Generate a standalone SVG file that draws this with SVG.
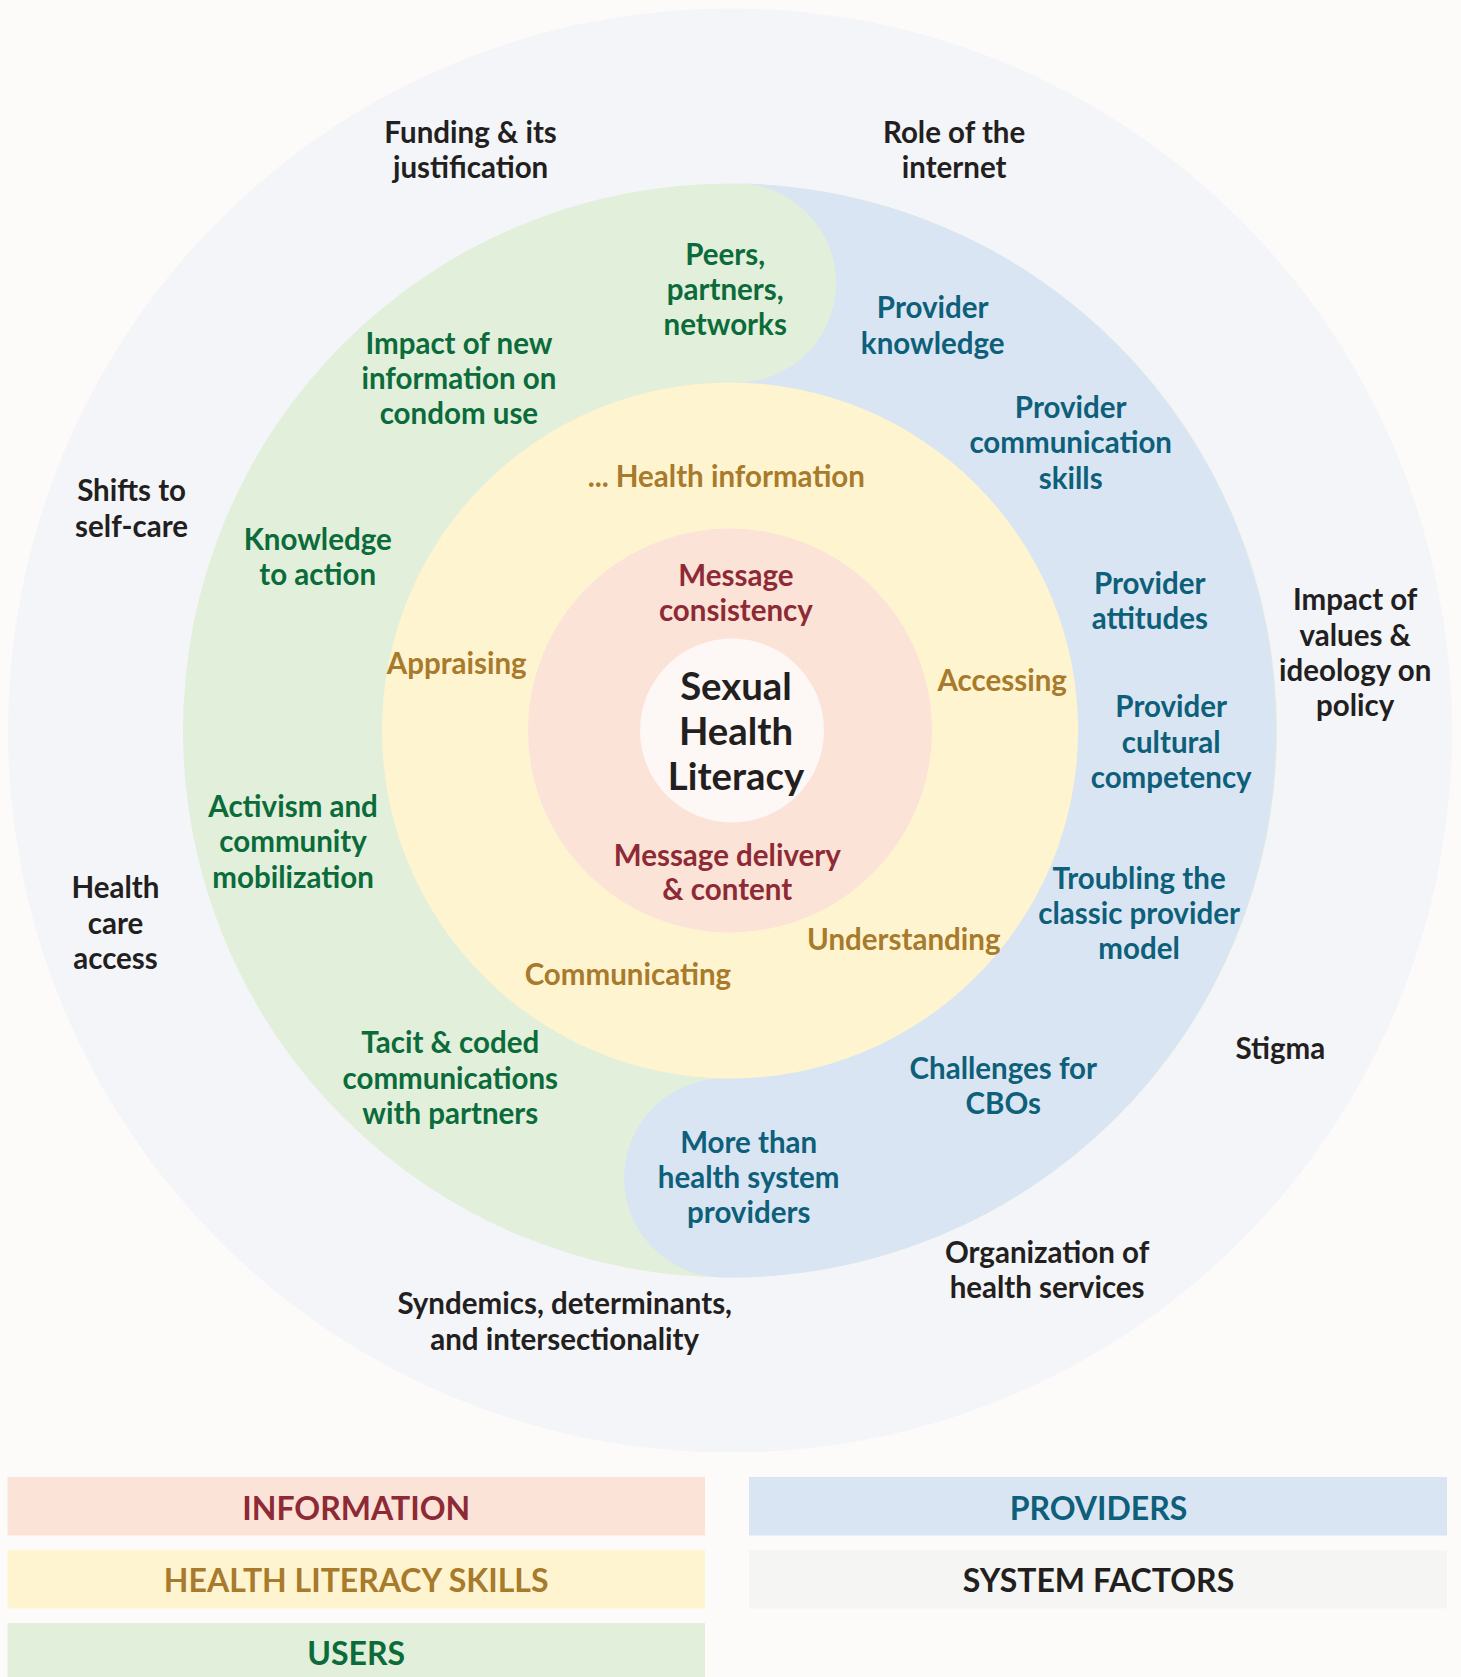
<svg xmlns="http://www.w3.org/2000/svg" width="1461" height="1677" viewBox="0 0 1461 1677">
<style>
text{font-family:Lato,"Noto Sans","Liberation Sans",sans-serif;font-weight:700;text-anchor:middle}
.t{font-size:29.5px}
.sys{fill:#231f20}
.usr{fill:#0b6b3a}
.prv{fill:#0d5f7a}
.skl{fill:#a87a2c}
.inf{fill:#8e2a35}
.ctr{font-size:38.3px;fill:#231f20}
.lg{font-size:32px}
</style>
<rect x="0" y="0" width="1461" height="1677" fill="#fcfbf9"/>
<g id="rings">
<circle id="system-ring" cx="730" cy="730.5" r="722" fill="#f3f5f8"/>
<circle id="users-ring" cx="730" cy="730.5" r="547" fill="#e2efda"/>
<path id="providers-ring" fill="#dae5f3" d="M 737.95 183.56 A 546 546 0 0 1 1276 730.5 A 546 546 0 0 1 722.05 1277.44 A 99.5 99.5 0 0 1 724.95 1078.46 A 348 348 0 0 0 1078 730.5 A 348 348 0 0 0 735.05 382.54 A 99.5 99.5 0 0 0 737.95 183.56 Z"/>
<circle id="skills-ring" cx="730" cy="730.5" r="348" fill="#fff4d0"/>
<circle id="information-ring" cx="730" cy="730.5" r="202" fill="#fbe3d8"/>
<circle id="core" cx="732" cy="730.5" r="92" fill="#fdf7f5"/>
</g>
<g id="connectors"></g>
<g id="center-label"><text class="ctr" x="736" y="699.5">Sexual</text><text class="ctr" x="736" y="744.5">Health</text><text class="ctr" x="736" y="789.5">Literacy</text></g>

<g id="sys-funding"><text class="t sys" x="470.6" y="143">Funding &amp; its</text><text class="t sys" x="470.6" y="178.3">justification</text></g>
<g id="sys-internet"><text class="t sys" x="954.1" y="143">Role of the</text><text class="t sys" x="954.1" y="178.3">internet</text></g>
<g id="sys-selfcare"><text class="t sys" x="131.6" y="501.4">Shifts to</text><text class="t sys" x="131.6" y="536.6">self-care</text></g>
<g id="sys-values"><text class="t sys" x="1355.2" y="610.4">Impact of</text><text class="t sys" x="1355.2" y="645.7">values &amp;</text><text class="t sys" x="1355.2" y="681">ideology on</text><text class="t sys" x="1355.2" y="716.3">policy</text></g>
<g id="sys-access"><text class="t sys" x="115.5" y="898.2">Health</text><text class="t sys" x="115.5" y="933.5">care</text><text class="t sys" x="115.5" y="968.8">access</text></g>
<g id="sys-stigma"><text class="t sys" x="1280.3" y="1058.6">Stigma</text></g>
<g id="sys-organization"><text class="t sys" x="1047.1" y="1262.9">Organization of</text><text class="t sys" x="1047.1" y="1298.2">health services</text></g>
<g id="sys-syndemics"><text class="t sys" x="564.7" y="1314.2">Syndemics, determinants,</text><text class="t sys" x="564.7" y="1349.5">and intersectionality</text></g>

<g id="usr-peers"><text class="t usr" x="725.2" y="265">Peers,</text><text class="t usr" x="725.2" y="300.3">partners,</text><text class="t usr" x="725.2" y="334.5">networks</text></g>
<g id="usr-condom"><text class="t usr" x="458.9" y="353.7">Impact of new</text><text class="t usr" x="458.9" y="389">information on</text><text class="t usr" x="458.9" y="424.3">condom use</text></g>
<g id="usr-knowledge"><text class="t usr" x="317.7" y="549.5">Knowledge</text><text class="t usr" x="317.7" y="584.8">to action</text></g>
<g id="usr-activism"><text class="t usr" x="293.1" y="816.9">Activism and</text><text class="t usr" x="293.1" y="852.2">community</text><text class="t usr" x="293.1" y="887.5">mobilization</text></g>
<g id="usr-tacit"><text class="t usr" x="450.3" y="1053.3">Tacit &amp; coded</text><text class="t usr" x="450.3" y="1088.6">communications</text><text class="t usr" x="450.3" y="1123.9">with partners</text></g>

<g id="prv-knowledge"><text class="t prv" x="932.7" y="318.4">Provider</text><text class="t prv" x="932.7" y="353.7">knowledge</text></g>
<g id="prv-communication"><text class="t prv" x="1070.7" y="417.9">Provider</text><text class="t prv" x="1070.7" y="453.2">communication</text><text class="t prv" x="1070.7" y="488.5">skills</text></g>
<g id="prv-attitudes"><text class="t prv" x="1149.8" y="594.4">Provider</text><text class="t prv" x="1149.8" y="628.6">attitudes</text></g>
<g id="prv-cultural"><text class="t prv" x="1171.2" y="717.4">Provider</text><text class="t prv" x="1171.2" y="752.7">cultural</text><text class="t prv" x="1171.2" y="788">competency</text></g>
<g id="prv-troubling"><text class="t prv" x="1139.1" y="888.5">Troubling the</text><text class="t prv" x="1139.1" y="923.8">classic provider</text><text class="t prv" x="1139.1" y="959.1">model</text></g>
<g id="prv-cbos"><text class="t prv" x="1003.3" y="1078.9">Challenges for</text><text class="t prv" x="1003.3" y="1114.2">CBOs</text></g>
<g id="prv-morethan"><text class="t prv" x="748.7" y="1152.7">More than</text><text class="t prv" x="748.7" y="1188">health system</text><text class="t prv" x="748.7" y="1223.3">providers</text></g>

<g id="skl-health-info"><text class="t skl" x="726.3" y="487.4">... Health information</text></g>
<g id="skl-appraising"><text class="t skl" x="456.7" y="673.6">Appraising</text></g>
<g id="skl-accessing"><text class="t skl" x="1002.2" y="690.7">Accessing</text></g>
<g id="skl-understanding"><text class="t skl" x="903.8" y="949.5">Understanding</text></g>
<g id="skl-communicating"><text class="t skl" x="627.9" y="984.8">Communicating</text></g>

<g id="inf-consistency"><text class="t inf" x="735.9" y="585.8">Message</text><text class="t inf" x="735.9" y="621.1">consistency</text></g>
<g id="inf-delivery"><text class="t inf" x="727.3" y="866.1">Message delivery</text><text class="t inf" x="727.3" y="900.3">&amp; content</text></g>

<g id="legend">
<g id="legend-information"><rect x="7.5" y="1477" width="697.5" height="58.5" fill="#fbe3d8"/><text class="lg inf" x="356.2" y="1519.6">INFORMATION</text></g>
<g id="legend-skills"><rect x="7.5" y="1550" width="697.5" height="58.5" fill="#fff4d0"/><text class="lg skl" x="356.2" y="1592.4">HEALTH LITERACY SKILLS</text></g>
<g id="legend-users"><rect x="7.5" y="1623" width="697.5" height="54" fill="#e2efda"/><text class="lg usr" x="356.2" y="1665.1">USERS</text></g>
<g id="legend-providers"><rect x="749" y="1477" width="698" height="58.5" fill="#dae5f3"/><text class="lg prv" x="1098.5" y="1519.6">PROVIDERS</text></g>
<g id="legend-system"><rect x="749" y="1550" width="698" height="58.5" fill="#f5f5f4"/><text class="lg sys" x="1098.5" y="1592.4">SYSTEM FACTORS</text></g>
</g>
</svg>
